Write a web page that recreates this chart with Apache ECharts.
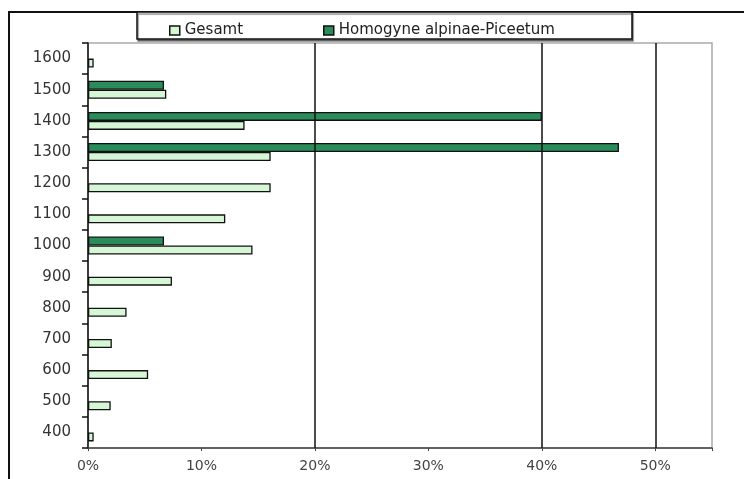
<!DOCTYPE html>
<html>
<head>
<meta charset="utf-8">
<script src="https://cdn.jsdelivr.net/npm/echarts@6/dist/echarts.min.js"></script>
<style>html,body{margin:0;padding:0;background:#fff}#c{width:744px;height:479px}</style>
</head>
<body>
<div id="c"></div>
<script>
var categories = ['400','500','600','700','800','900','1000','1100','1200','1300','1400','1500','1600'];
var gesamt = [0.5, 2.0, 5.3, 2.1, 3.4, 7.4, 14.5, 12.1, 16.1, 16.1, 13.8, 6.9, 0.5];
var homogyne = [null, null, null, null, null, null, 6.7, null, null, 46.8, 40.0, 6.7, null];
var xTicks = [0, 10, 20, 30, 40, 50];
var gridlinePercents = [20, 40, 50];
var seriesNames = ['Gesamt', 'Homogyne alpinae-Piceetum'];

var FONT = 'DejaVu Sans';
var chart = echarts.init(document.getElementById('c'), null, {renderer: 'canvas'});
chart.setOption({
  animation: false,
  backgroundColor: '#fff',
  graphic: [
    {type: 'polyline', z: 0, shape: {points: [[9, 479], [9, 12], [744, 12]]}, style: {stroke: '#111', lineWidth: 2, fill: null}},
    {type: 'rect', z: 5, shape: {x: 137, y: 12, width: 495, height: 27},
     style: {fill: '#fff', stroke: '#111', lineWidth: 1.5, shadowColor: 'rgba(0,0,0,0.45)', shadowOffsetX: 1, shadowOffsetY: 2, shadowBlur: 1}}
  ],
  legend: [
    {data: [seriesNames[0]], left: 164, top: 18, icon: 'rect', itemWidth: 10, itemHeight: 9, itemGap: 6, z: 10,
     itemStyle: {borderWidth: 1.5},
     textStyle: {fontFamily: FONT, fontSize: 15, color: '#222'}},
    {data: [seriesNames[1]], left: 318, top: 18, icon: 'rect', itemWidth: 10, itemHeight: 9, itemGap: 6, z: 10,
     itemStyle: {borderWidth: 1.5},
     textStyle: {fontFamily: FONT, fontSize: 15, color: '#222'}}
  ],
  grid: {left: 88, top: 43, right: 32, bottom: 31, show: true, borderColor: '#aaa', borderWidth: 1.5, containLabel: false},
  xAxis: {
    type: 'value', min: 0, max: 55, interval: 10,
    axisLine: {show: true, lineStyle: {color: '#444', width: 1.5}},
    axisTick: {show: true, length: 3, lineStyle: {color: '#444'}},
    splitLine: {show: false},
    axisLabel: {
      fontFamily: FONT, fontSize: 14, color: '#444', margin: 11,
      formatter: function (v) { return xTicks.indexOf(v) >= 0 ? v + '%' : ''; }
    }
  },
  yAxis: {
    type: 'category', data: categories,
    axisLine: {show: true, lineStyle: {color: '#111', width: 1.5}},
    axisTick: {show: true, length: 6, lineStyle: {color: '#111', width: 1.5}},
    axisLabel: {fontFamily: FONT, fontSize: 15, color: '#333', margin: 17}
  },
  series: [
    {
      name: 'grid', type: 'line', data: [], z: 1, silent: true,
      markLine: {
        silent: true, symbol: 'none', label: {show: false},
        lineStyle: {color: '#111', width: 1.5, type: 'solid'},
        data: gridlinePercents.map(function (g) { return {xAxis: g}; })
      }
    },
    {
      name: seriesNames[1], type: 'bar', data: homogyne, z: 3,
      barWidth: 9, barGap: '0%',
      itemStyle: {color: '#2a8c5a', borderColor: '#111', borderWidth: 1.3}
    },
    {
      name: seriesNames[0], type: 'bar', data: gesamt, z: 3,
      barWidth: 9, barGap: '0%',
      itemStyle: {color: '#d6f7d6', borderColor: '#111', borderWidth: 1.3}
    }
  ]
});
</script>
</body>
</html>
